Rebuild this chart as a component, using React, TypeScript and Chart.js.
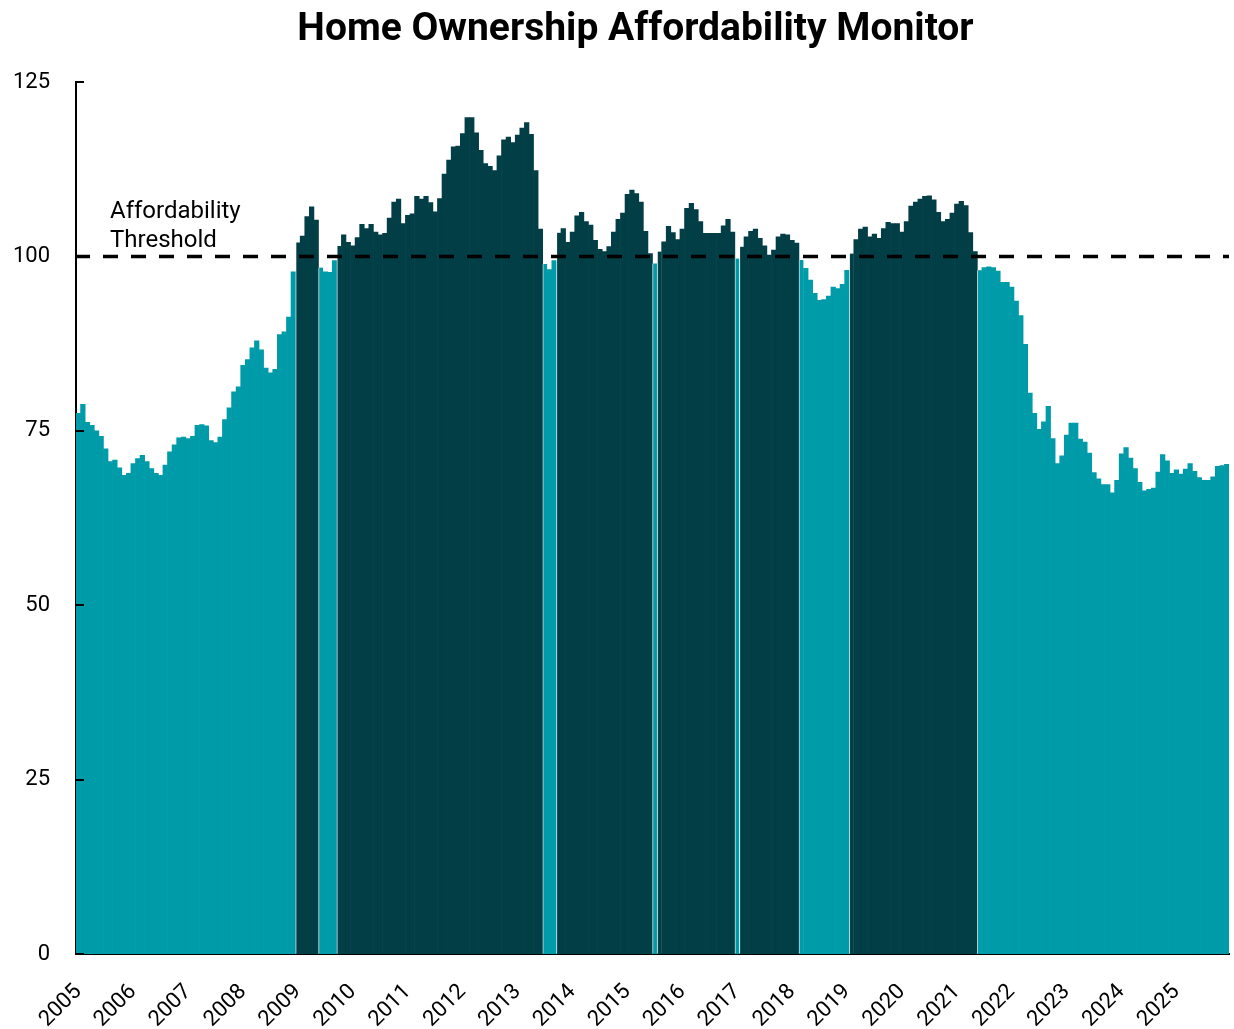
import { useEffect, useRef } from "react";
import { Chart, registerables } from "chart.js";

Chart.register(...registerables);

const TITLE = "Home Ownership Affordability Monitor";
const YEARS = [2005, 2006, 2007, 2008, 2009, 2010, 2011, 2012, 2013, 2014, 2015, 2016, 2017, 2018, 2019, 2020, 2021, 2022, 2023, 2024, 2025];
const MONTHS = ["01", "02", "03", "04", "05", "06", "07", "08", "09", "10", "11", "12"];
const CATEGORIES: string[] = YEARS.flatMap((y) => MONTHS.map((m) => `${y}-${m}`));

const INDEX_VALUES = [
  77.5, 78.8, 76.2, 75.8, 75.0, 74.2, 72.4, 70.6, 70.8, 69.7, 68.6, 68.9,
  70.3, 71.0, 71.5, 70.6, 69.6, 68.9, 68.6, 70.1, 72.0, 73.0, 74.0, 74.1,
  73.9, 74.2, 75.8, 75.9, 75.7, 73.6, 73.3, 74.1, 76.6, 78.3, 80.6, 81.3,
  84.4, 85.2, 86.9, 87.9, 86.6, 84.0, 83.3, 83.8, 88.8, 89.2, 91.3, 97.8,
  102.0, 102.9, 105.7, 107.1, 105.2, 98.4, 97.8, 97.7, 99.4, 101.5, 103.1, 102.0,
  101.5, 102.7, 104.6, 104.0, 104.6, 103.5, 103.1, 103.3, 105.5, 107.8, 108.2, 104.7,
  105.9, 106.1, 108.6, 108.2, 108.6, 107.7, 106.4, 108.3, 111.8, 113.8, 115.7, 115.8,
  117.6, 119.9, 119.9, 117.7, 115.2, 113.3, 112.9, 112.3, 114.4, 116.7, 117.1, 116.3,
  117.4, 118.4, 119.2, 117.5, 112.3, 103.9, 98.9, 98.1, 99.4, 103.4, 104.0, 102.0,
  103.5, 105.8, 106.3, 105.0, 104.5, 102.3, 101.0, 100.7, 101.4, 103.5, 105.3, 106.2,
  108.9, 109.5, 109.0, 107.8, 103.6, 100.4, 99.0, 100.7, 102.1, 104.3, 103.4, 102.4,
  103.9, 106.9, 107.6, 106.7, 105.0, 103.3, 103.3, 103.3, 103.3, 104.4, 105.3, 103.5,
  99.7, 101.4, 102.8, 103.6, 103.9, 102.6, 101.5, 100.2, 100.9, 102.8, 103.2, 103.1,
  102.3, 101.9, 99.5, 98.3, 96.6, 94.7, 93.7, 93.8, 94.3, 95.6, 95.4, 96.0,
  98.0, 100.4, 102.4, 103.9, 104.2, 102.8, 103.2, 102.6, 104.0, 104.9, 104.7, 104.7,
  103.5, 105.0, 107.2, 107.8, 108.2, 108.6, 108.7, 108.1, 106.3, 105.0, 105.3, 106.2,
  107.5, 107.9, 107.3, 103.4, 100.7, 98.0, 98.4, 98.5, 98.4, 97.9, 96.3, 96.3,
  95.6, 93.6, 91.5, 87.4, 80.4, 77.5, 75.2, 76.3, 78.5, 73.9, 70.3, 71.4,
  74.4, 76.1, 76.1, 73.8, 73.4, 71.8, 69.0, 68.1, 67.3, 67.3, 66.1, 67.9,
  71.7, 72.6, 71.1, 69.6, 67.6, 66.4, 66.6, 66.8, 69.1, 71.6, 70.7, 68.9,
  69.4, 68.8, 69.5, 70.3, 69.2, 68.3, 67.9, 67.9, 68.4, 69.9, 70.0, 70.2,
];

const Y_TICKS = [0, 25, 50, 75, 100, 125];
const THRESHOLD = 100;
const THRESHOLD_LABEL = ["Affordability", "Threshold"];

const COLOR_ABOVE = "#023e45";
const COLOR_BELOW = "#009ba9";
const SEAM = "rgba(255,255,255,0.6)";

const overlayPlugin = {
  id: "overlay",
  afterDatasetsDraw(chart: any) {
    const { ctx, chartArea, scales } = chart;
    const y = scales.y;
    ctx.save();
    const ty = y.getPixelForValue(THRESHOLD);
    ctx.strokeStyle = "#000";
    ctx.lineWidth = 3.5;
    ctx.setLineDash([15, 13]);
    ctx.lineDashOffset = 1;
    ctx.beginPath();
    ctx.moveTo(chartArea.left, ty);
    ctx.lineTo(chartArea.right, ty);
    ctx.stroke();
    ctx.setLineDash([]);
    ctx.lineWidth = 2;
    for (const v of Y_TICKS) {
      const py = Math.round(y.getPixelForValue(v));
      ctx.beginPath();
      ctx.moveTo(chartArea.left - 1, py);
      ctx.lineTo(chartArea.left + 8, py);
      ctx.stroke();
    }
    ctx.fillStyle = "#000";
    ctx.font = "24px Roboto";
    ctx.textAlign = "left";
    ctx.textBaseline = "alphabetic";
    ctx.fillText(THRESHOLD_LABEL[0], 110, 218);
    ctx.fillText(THRESHOLD_LABEL[1], 110, 247);
    ctx.restore();
  },
  afterDraw(chart: any) {
    const { ctx } = chart;
    ctx.save();
    ctx.fillStyle = "#000";
    ctx.font = "bold 39px Roboto";
    ctx.textAlign = "center";
    ctx.textBaseline = "alphabetic";
    ctx.fillText(TITLE, 635.5, 40);
    ctx.restore();
  },
};

export default function App() {
  const ref = useRef<HTMLCanvasElement | null>(null);

  useEffect(() => {
    if (!ref.current) return;
    const isAbove = INDEX_VALUES.map((v) => v >= THRESHOLD);
    const colors = isAbove.map((a) => (a ? COLOR_ABOVE : COLOR_BELOW));
    const borders = isAbove.map((a, i) => (i > 0 && a !== isAbove[i - 1] ? { left: 1, right: 0, top: 0, bottom: 0 } : 0));
    const chart = new Chart(ref.current, {
      type: "bar",
      data: {
        labels: CATEGORIES,
        datasets: [
          {
            label: "Affordability index",
            data: INDEX_VALUES,
            backgroundColor: colors,
            borderColor: SEAM,
            borderWidth: borders as any,
            borderSkipped: false,
            barPercentage: 1,
            categoryPercentage: 1,
          },
        ],
      },
      options: {
        responsive: false,
        animation: false,
        layout: { padding: { top: 82, right: 5, left: 0, bottom: 0 } },
        font: { family: "Roboto" },
        plugins: {
          legend: { display: false },
          tooltip: { enabled: false },
          title: { display: false },
        },
        scales: {
          x: {
            type: "category",
            grid: { display: false, drawTicks: false },
            border: { display: true, color: "#000", width: 2 },
            ticks: {
              autoSkip: false,
              maxRotation: 45,
              minRotation: 45,
              padding: 25,
              color: "#000",
              font: { family: "Roboto", size: 22 },
              callback: (_v: any, i: number) => {
                const c = CATEGORIES[i];
                return c.endsWith("-01") ? c.slice(0, 4) : "";
              },
            },
            afterFit: (s: any) => {
              s.height = 75;
              s.paddingLeft = 0;
              s.paddingRight = 0;
            },
          },
          y: {
            min: 0,
            max: 125,
            grid: { display: false, drawTicks: false },
            border: { display: true, color: "#000", width: 2 },
            afterBuildTicks: (s: any) => {
              s.ticks = Y_TICKS.map((v) => ({ value: v }));
            },
            ticks: {
              padding: 26,
              color: "#000",
              font: { family: "Roboto", size: 22 },
            },
            afterFit: (s: any) => {
              s.width = 76;
            },
          },
        },
      },
      plugins: [overlayPlugin],
    });
    return () => chart.destroy();
  }, []);

  return (
    <div style={{ position: "fixed", left: 0, top: 0, width: 1234, height: 1029, background: "#fff" }}>
      <canvas ref={ref} width={1234} height={1029} style={{ display: "block" }} />
    </div>
  );
}
